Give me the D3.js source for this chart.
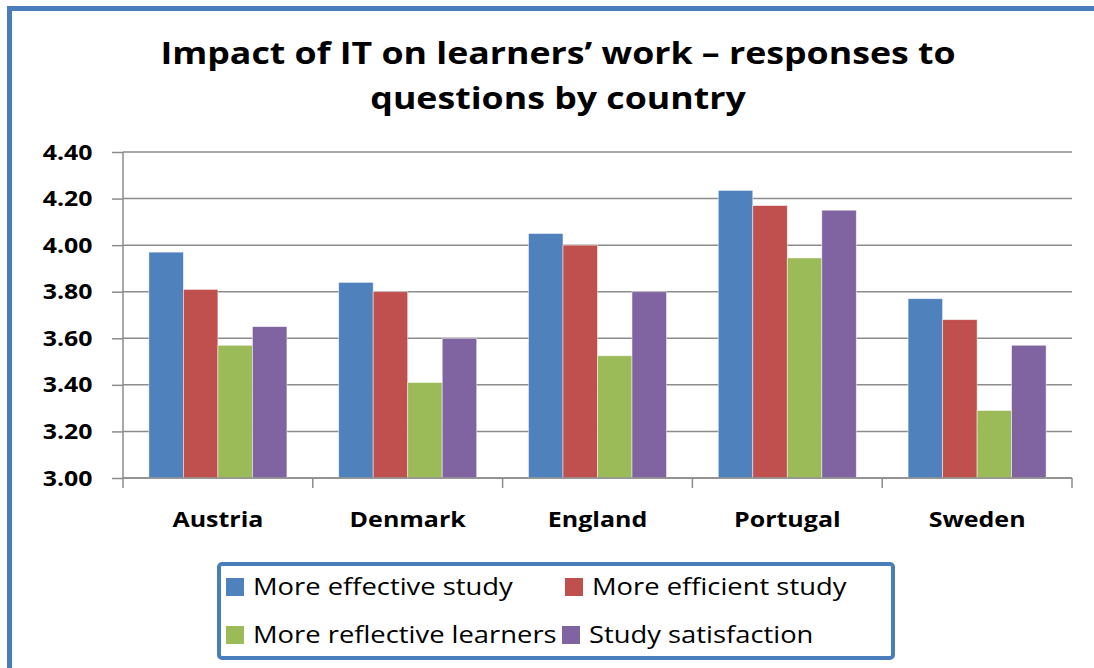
<!DOCTYPE html>
<html lang="en">
<head>
<meta charset="UTF-8">
<title>Impact of IT on learners' work</title>
<script src="https://cdn.jsdelivr.net/npm/d3@7"></script>
<style>
  body { margin: 0; background: #fff; }
  text { font-family: "Open Sans", Lato, sans-serif; fill: #000; }
</style>
</head>
<body>
<script>
// data
var countries = ["Austria", "Denmark", "England", "Portugal", "Sweden"];
var seriesNames = ["More effective study", "More efficient study", "More reflective learners", "Study satisfaction"];
var effective  = [3.97, 3.84, 4.05, 4.235, 3.77];
var efficient  = [3.81, 3.80, 4.00, 4.17, 3.68];
var reflective = [3.57, 3.41, 3.525, 3.945, 3.29];
var satisfied  = [3.65, 3.60, 3.80, 4.15, 3.57];
var yTicks = [3.0, 3.2, 3.4, 3.6, 3.8, 4.0, 4.2, 4.4];
var colors = ["#4f81bd", "#c0504d", "#9bbb59", "#8064a2"];

var values = [effective, efficient, reflective, satisfied];

var W = 1094, H = 668;
// the source picture is stretched sideways, so text gets a horizontal scale
var stretch = 1.19;
var svg = d3.select("body").append("svg").attr("width", W).attr("height", H);

// outer chart frame (runs off the right/bottom of the picture)
svg.append("rect")
  .attr("x", 9.5).attr("y", 8.5).attr("width", W + 20).attr("height", H + 20)
  .attr("fill", "none").attr("stroke", "#4a7ebb").attr("stroke-width", 5);

// title
var title = svg.append("text").attr("text-anchor", "middle")
  .attr("transform", "translate(558,0) scale(" + stretch + ",1)")
  .style("font-weight", "bold").style("font-size", "30px");
title.append("tspan").attr("x", 0).attr("y", 64).text("Impact of IT on learners\u2019 work \u2013 responses to");
title.append("tspan").attr("x", 0).attr("y", 109).text("questions by country");

var pLeft = 123, pRight = 1072, pTop = 152, pBottom = 478;

var x = d3.scaleBand().domain(countries).range([pLeft, pRight]).paddingInner(0).paddingOuter(0);
var x1 = d3.scaleBand().domain(d3.range(seriesNames.length))
  .range([0, x.bandwidth()]).paddingOuter(0.75).paddingInner(0);
var y = d3.scaleLinear().domain([3.0, 4.4]).range([pBottom, pTop]);

// gridlines
svg.append("g").selectAll("line").data(yTicks).join("line")
  .attr("x1", pLeft).attr("x2", pRight)
  .attr("y1", d => y(d)).attr("y2", d => y(d))
  .attr("stroke", "#8c8c8c").attr("stroke-width", 1.5);

// y axis
var yAxis = svg.append("g").attr("transform", "translate(" + pLeft + ",0)")
  .call(d3.axisLeft(y).tickValues(yTicks).tickFormat(d3.format(".2f")).tickSize(11).tickPadding(16));
yAxis.select(".domain").attr("stroke", "#8c8c8c").attr("stroke-width", 1.5)
  .attr("d", "M0," + pTop + "V" + (pBottom + 10));
yAxis.selectAll(".tick line").attr("stroke", "#8c8c8c").attr("stroke-width", 1.5);
yAxis.selectAll(".tick text").style("font-size", "22px").style("font-weight", "bold")
  .attr("transform", "scale(1.13,1)")
  .attr("fill", "#000").attr("font-family", null);

// bars
svg.append("g").selectAll("g").data(values).join("g")
  .attr("fill", (d, i) => colors[i])
  .each(function (vals, si) {
    d3.select(this).selectAll("rect").data(vals).join("rect")
      .attr("x", (v, ci) => x(countries[ci]) + x1(si))
      .attr("width", x1.bandwidth())
      .attr("y", v => y(v))
      .attr("height", v => y(3.0) - y(v))
      .attr("stroke", "rgba(255,255,255,0.6)").attr("stroke-width", 0.8);
  });

// x axis
var xAxis = svg.append("g").attr("transform", "translate(0," + pBottom + ")")
  .call(d3.axisBottom(x).tickSize(0).tickPadding(34));
xAxis.select(".domain").attr("stroke", "#8c8c8c").attr("stroke-width", 1.5)
  .attr("d", "M" + pLeft + ",0H" + pRight);
xAxis.selectAll(".tick text").style("font-size", "21px").style("font-weight", "bold")
  .attr("transform", "scale(" + stretch + ",1)")
  .attr("fill", "#000").attr("font-family", null);
svg.append("g").selectAll("line").data(countries).join("line")
  .attr("x1", d => x(d) + x.bandwidth())
  .attr("x2", d => x(d) + x.bandwidth())
  .attr("y1", pBottom).attr("y2", pBottom + 10)
  .attr("stroke", "#8c8c8c").attr("stroke-width", 1.5);

// legend
svg.append("rect")
  .attr("x", 219).attr("y", 564).attr("width", 674).attr("height", 94).attr("rx", 3)
  .attr("fill", "#fff").attr("stroke", "#4a7ebb").attr("stroke-width", 4);
var legPos = [[226, 587], [565, 587], [226, 635], [562, 635]];
var leg = svg.append("g").selectAll("g").data(seriesNames).join("g")
  .attr("transform", (d, i) => "translate(" + legPos[i][0] + "," + legPos[i][1] + ")");
leg.append("rect").attr("x", 0).attr("y", -9).attr("width", 18).attr("height", 18)
  .attr("fill", (d, i) => colors[i]);
leg.append("text").attr("transform", "translate(27,8) scale(" + stretch + ",1)")
  .style("font-size", "23px").text(d => d);
</script>
</body>
</html>
